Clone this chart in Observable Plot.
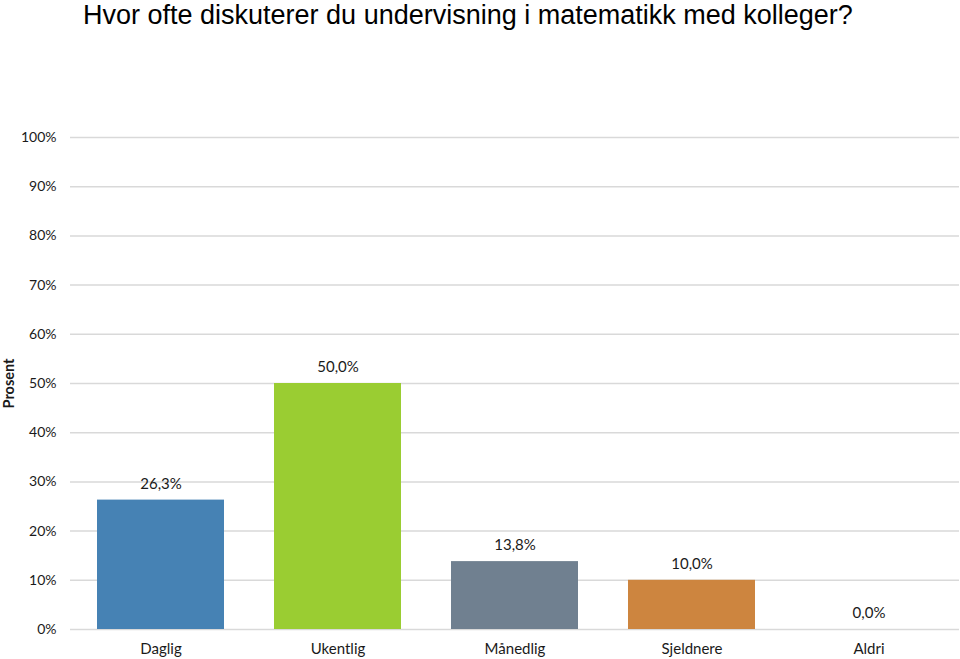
<!DOCTYPE html>
<html>
<head>
<meta charset="utf-8">
<script src="https://cdn.jsdelivr.net/npm/d3@7"></script>
<script src="https://cdn.jsdelivr.net/npm/@observablehq/plot@0.6"></script>
<style>
  html, body { margin: 0; padding: 0; background: #fff; }
  #title { height: 34px; font-family: "Liberation Sans", Arial, sans-serif; font-size: 27px; color: #000; padding-left: 83px; line-height: 31px; white-space: nowrap; overflow: visible; }
</style>
</head>
<body>
<div id="title">Hvor ofte diskuterer du undervisning i matematikk med kolleger?</div>
<div id="chart"></div>
<script>
const categories = ["Daglig", "Ukentlig", "Månedlig", "Sjeldnere", "Aldri"];
const values = [26.3, 50.0, 13.8, 10.0, 0.0];
const yTicks = [0, 10, 20, 30, 40, 50, 60, 70, 80, 90, 100];
const colors = ["#4682B4", "#9ACD32", "#708090", "#CD853F", "#4F81BD"];

const data = categories.map((c, i) => ({category: c, value: values[i]}));
const fmt = v => v.toFixed(1).replace(".", ",") + "%";

const chart = Plot.plot({
  width: 960,
  height: 625,
  marginTop: 103,
  marginBottom: 30,
  marginLeft: 70,
  marginRight: 1,
  style: { fontFamily: "Lato, 'Open Sans', sans-serif", fontSize: "14px", color: "#1a1a1a", background: "#fff" },
  x: { domain: categories, paddingInner: 0.285, paddingOuter: 0.1425, label: null },
  y: { domain: [0, 100], label: "Prosent" },
  color: { domain: categories, range: colors },
  marks: [
    Plot.gridY(yTicks, { stroke: "#d9d9d9", strokeOpacity: 1, strokeWidth: 1.5 }),
    Plot.barY(data, { x: "category", y: "value", fill: "category" }),
    Plot.text(data, { x: "category", y: "value", text: d => fmt(d.value), dy: -16, fill: "#1a1a1a", fontSize: 15 }),
    Plot.axisY(yTicks, { tickFormat: d => d + "%", tickSize: 0, tickPadding: 14, label: "Prosent", labelAnchor: "center", labelArrow: "none", labelOffset: 67, fontSize: 14 }),
    Plot.axisX({ tickSize: 0, tickPadding: 14, label: null, fontSize: 15 })
  ]
});
document.getElementById("chart").appendChild(chart);
chart.querySelectorAll("text").forEach(t => { if (t.textContent === "Prosent") { t.setAttribute("font-weight", "bold"); t.setAttribute("font-size", "14.5"); } });
</script>
</body>
</html>
